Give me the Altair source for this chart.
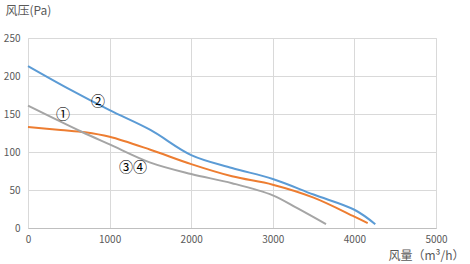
import altair as alt
import pandas as pd

# Series data (风量 m³/h, 风压 Pa)
blue_x = [0, 500, 1000, 1500, 2000, 2500, 3000, 3500, 4000, 4256]
blue_y = [213, 183, 155, 129, 96, 79, 64.5, 44, 24, 5]
orange_x = [0, 400, 700, 1000, 1500, 2000, 2500, 3000, 3500, 4000, 4163]
orange_y = [133, 129, 126, 120, 103, 84, 68, 57, 40, 15, 6.5]
gray_x = [0, 650, 1000, 1500, 2000, 2500, 3000, 3300, 3652]
gray_y = [161, 127, 110, 86, 71, 59, 43, 26, 5]

label_text = ["①", "②", "③④"]
label_x = [429, 858, 1287]
label_y = [149, 166, 79]

x_ticks = [0, 1000, 2000, 3000, 4000, 5000]
y_ticks = [0, 50, 100, 150, 200, 250]

rows = []
for s, xs, ys in [("blue", blue_x, blue_y), ("orange", orange_x, orange_y), ("gray", gray_x, gray_y)]:
    for i, (a, b) in enumerate(zip(xs, ys)):
        rows.append({"series": s, "x": a, "y": b, "o": i})
df = pd.DataFrame(rows)
lab = pd.DataFrame({"t": label_text, "x": label_x, "y": label_y})

FONT = "Noto Sans CJK SC"
TXT = "#595959"

xscale = alt.Scale(domain=[0, 5000], nice=False)
yscale = alt.Scale(domain=[0, 250], nice=False)

xaxis = alt.Axis(
    values=x_ticks, format="d", title="风量（m³/h）",
    titleAngle=0, titleAlign="right", titleX=436, titleY=27, titleBaseline="middle",
    titleFont=FONT, titleFontSize=12, titleFontWeight="normal", titleColor=TXT,
    labelFont=FONT, labelFontSize=10, labelColor=TXT, labelPadding=6,
    labelOverlap=False, labelFlush=False,
    ticks=False, domain=True, domainColor="#bfbfbf", gridColor="#d9d9d9")
yaxis = alt.Axis(
    values=y_ticks, format="d", title="风压(Pa)",
    titleAngle=0, titleAlign="left", titleX=-23, titleY=-28, titleBaseline="middle",
    titleFont=FONT, titleFontSize=12, titleFontWeight="normal", titleColor=TXT,
    labelFont=FONT, labelFontSize=10, labelColor=TXT, labelPadding=8,
    labelOverlap=False, labelFlush=False,
    ticks=False, domain=False, gridColor="#d9d9d9")

lines = alt.Chart(df).mark_line(interpolate="catmull-rom", strokeWidth=2).encode(
    x=alt.X("x:Q", scale=xscale, axis=xaxis),
    y=alt.Y("y:Q", scale=yscale, axis=yaxis),
    color=alt.Color("series:N", scale=alt.Scale(
        domain=["blue", "orange", "gray"], range=["#5b9bd5", "#ed7d31", "#a5a5a5"]), legend=None),
    order="o:Q",
)

texts = alt.Chart(lab).mark_text(font=FONT, fontSize=14, color="#000000").encode(
    x=alt.X("x:Q", scale=xscale, axis=xaxis),
    y=alt.Y("y:Q", scale=yscale, axis=yaxis),
    text="t:N")

chart = (lines + texts).properties(
    width=408, height=190,
    autosize=alt.AutoSizeParams(type="none"),
    padding={"left": 28, "top": 38, "right": 34, "bottom": 36},
).configure_view(stroke=None).configure(background="white")

chart.save("out.html", embed_options={"renderer": "svg", "actions": False})
